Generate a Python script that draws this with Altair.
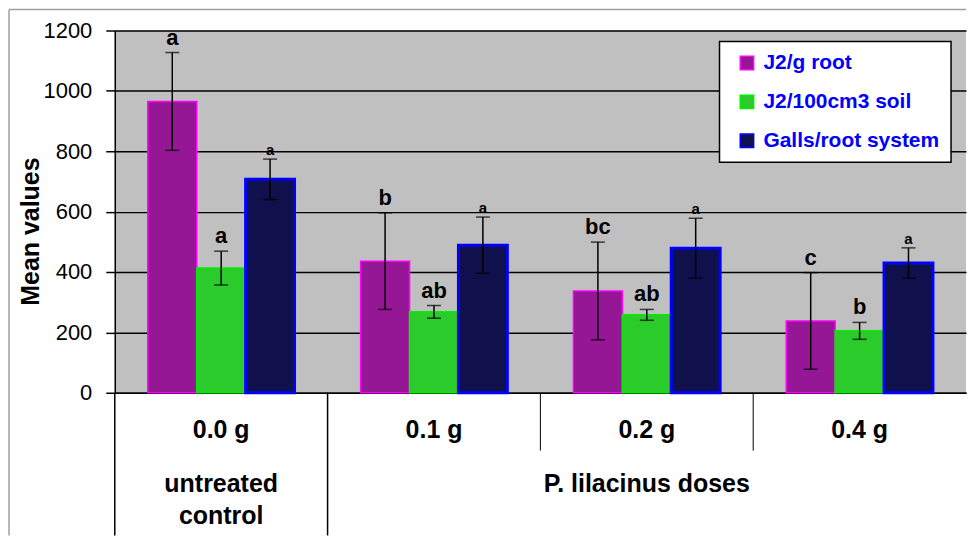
import altair as alt
import pandas as pd

doses = ["0.0 g", "0.1 g", "0.2 g", "0.4 g"]
series = ["J2/g root", "J2/100cm3 soil", "Galls/root system"]

root = [965, 436, 337, 238]
root_err = [162, 160, 162, 160]
soil = [413, 268, 258, 205]
soil_err = [56, 21, 18, 28]
galls = [707, 489, 479, 430]
galls_err = [67, 93, 99, 50]

root_letters = ["a", "b", "bc", "c"]
soil_letters = ["a", "ab", "ab", "b"]
galls_letters = ["a", "a", "a", "a"]

groups = ["untreated\ncontrol", "P. lilacinus doses"]
group_anchor = ["0.0 g", "0.2 g"]

fills = ["#951795", "#2ACB2A", "#10104C"]
strokes = ["#FF00FF", "#00EE00", "#0000FF"]

rows = []
for vals, errs, lets, s in [(root, root_err, root_letters, series[0]),
                            (soil, soil_err, soil_letters, series[1]),
                            (galls, galls_err, galls_letters, series[2])]:
    for d, v, e, l in zip(doses, vals, errs, lets):
        rows.append({"dose": d, "series": s, "value": v,
                     "lo": v - e, "hi": v + e, "letter": l})
df = pd.DataFrame(rows)

W, H = 853, 363
FONT = "Liberation Sans"

xscale = alt.Scale(domain=doses, paddingInner=0, paddingOuter=0)
offscale = alt.Scale(domain=series, paddingInner=0, paddingOuter=0.676)
yscale = alt.Scale(domain=[0, 1200])

base = alt.Chart(df)

X = alt.X("dose:N", scale=xscale, sort=doses)
XO = alt.XOffset("series:N", scale=offscale, sort=series)

bars = base.mark_bar().encode(
    x=alt.X("dose:N", scale=xscale, sort=doses,
            axis=alt.Axis(title=None, labelAngle=0, ticks=False, domain=True,
                          domainColor="black", domainWidth=1.5,
                          labelFont=FONT, labelFontSize=25, labelFontWeight="bold",
                          labelColor="black", labelPadding=25)),
    xOffset=XO,
    y=alt.Y("value:Q", scale=yscale,
            axis=alt.Axis(title="Mean values", values=list(range(0, 1201, 200)), format="d",
                          titleFont=FONT, titleFontSize=25, titleFontWeight="bold",
                          titleColor="black", titlePadding=-1, titleY=201,
                          labelFont=FONT, labelFontSize=22, labelColor="black",
                          labelPadding=14, tickSize=9, tickColor="black", tickWidth=1.5,
                          domainColor="black", domainWidth=1.5,
                          grid=True, gridColor="black", gridWidth=1.5)),
    fill=alt.Fill("series:N", scale=alt.Scale(domain=series, range=fills), title=None),
    stroke=alt.Stroke("series:N", scale=alt.Scale(domain=series, range=strokes), title=None),
    strokeWidth=alt.condition("datum.series == 'Galls/root system'", alt.value(3), alt.value(1.5)),
)

err = base.mark_rule(color="black", strokeWidth=1.5).encode(
    x=X, xOffset=XO, y=alt.Y("lo:Q", scale=yscale), y2="hi:Q",
)
cap_hi = base.mark_tick(color="black", thickness=1.5, size=14).encode(
    x=X, xOffset=XO, y=alt.Y("hi:Q", scale=yscale),
)
cap_lo = base.mark_tick(color="black", thickness=1.5, size=14).encode(
    x=X, xOffset=XO, y=alt.Y("lo:Q", scale=yscale),
)

big_letters = base.transform_filter("datum.series != 'Galls/root system'").mark_text(
    font=FONT, fontSize=22, fontWeight="bold", color="black", baseline="alphabetic", dy=-8
).encode(
    x=X, xOffset=XO, y=alt.Y("hi:Q", scale=yscale), text="letter:N",
)
small_letters = base.transform_filter("datum.series == 'Galls/root system'").mark_text(
    font=FONT, fontSize=15, fontWeight="bold", color="black", baseline="alphabetic", dy=-4
).encode(
    x=X, xOffset=XO, y=alt.Y("hi:Q", scale=yscale), text="letter:N",
)

div_long = alt.Chart(pd.DataFrame({"dose": doses[:2]})).mark_rule(color="black", strokeWidth=1.5).encode(
    x=alt.X("dose:N", scale=xscale, sort=doses, bandPosition=0),
    y=alt.value(H), y2=alt.value(H + 143),
)
div_short = alt.Chart(pd.DataFrame({"dose": doses[2:]})).mark_rule(color="black", strokeWidth=1).encode(
    x=alt.X("dose:N", scale=xscale, sort=doses, bandPosition=0),
    y=alt.value(H), y2=alt.value(H + 58),
)

group_text = alt.Chart(pd.DataFrame({"dose": group_anchor, "label": groups})).mark_text(
    font=FONT, fontSize=25, fontWeight="bold", color="black", baseline="alphabetic",
    lineBreak="\n", lineHeight=33
).encode(
    x=X,
    y=alt.value(H + 99),
    text="label:N",
)

frame = alt.Chart(pd.DataFrame({"k": [0]}))
border_left = frame.mark_rule(color="#A0A0A0", strokeWidth=1.5).encode(
    x=alt.value(-106), y=alt.value(-21), y2=alt.value(H + 143))
border_top = frame.mark_rule(color="#A0A0A0", strokeWidth=1.5).encode(
    x=alt.value(-106), x2=alt.value(W), y=alt.value(-21))

chart = alt.layer(
    bars, err, cap_hi, cap_lo, big_letters, small_letters,
    div_long, div_short, group_text, border_left, border_top
).properties(
    width=W, height=H, padding=0, background="white"
).configure_view(
    fill="#C0C0C0", stroke=None
).configure_legend(
    orient="none", legendX=606, legendY=11,
    fillColor="white", strokeColor="black", strokeWidth=1.5,
    padding=11, rowPadding=17, symbolType="square", symbolSize=180,
    symbolStrokeWidth=1.5, symbolOffset=6, labelOffset=6,
    labelFont=FONT, labelFontSize=21, labelFontWeight="bold", labelColor="#0000FF",
    labelLimit=300,
)

chart.save("out.html", embed_options={"renderer": "svg", "actions": False})
